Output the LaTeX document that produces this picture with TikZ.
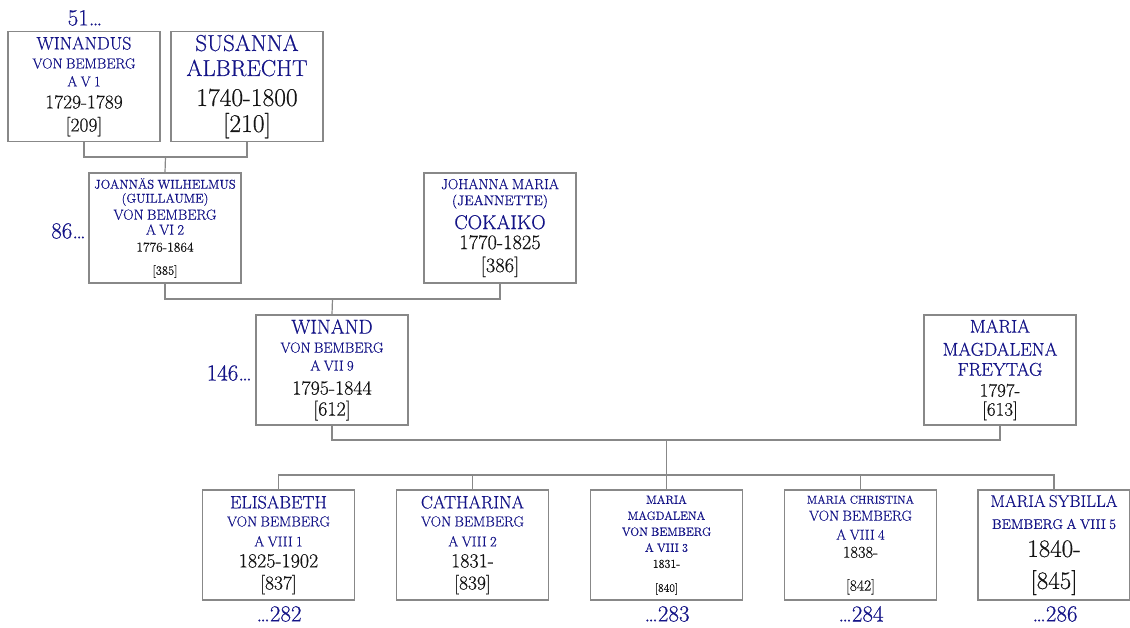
\documentclass[tikz,border=0pt]{standalone}
\usepackage{fontspec}
\setmainfont{Latin Modern Roman}[FakeBold=0.5]

\definecolor{namecol}{RGB}{20,20,135}
\definecolor{boxcol}{RGB}{136,136,136}
\definecolor{datecol}{RGB}{20,20,20}

% one line of a person box: size, skip from the line above, text
\newcommand\nm[3]{{\fontsize{#1}{#2}\selectfont\color{namecol}#3\par}}
\newcommand\dt[3]{{\fontsize{#1}{#2}\selectfont\color{datecol}#3\par}}

\tikzset{
  person/.style={draw=boxcol, line width=1.2pt, rectangle, minimum width=152pt,
    minimum height=110pt, text width=150pt, align=center, inner sep=0pt},
  famline/.style={draw=boxcol, line width=1.2pt},
  refnum/.style={text=namecol, font=\fontsize{23}{24}\selectfont, inner sep=0pt},
}

\begin{document}
\begin{tikzpicture}[x=1pt, y=-1pt]
    \useasboundingbox (0,0) rectangle (1130,627);

    % generation V
    \node[person] (winandus) at (84,86.5)
        {\nm{18}{18}{WINANDUS}\nm{14.5}{19}{VON BEMBERG}\nm{14.5}{18}{A V 1}\dt{19.5}{22}{1729-1789}\dt{19.5}{23}{[209]}};
    \node[person] (susanna) at (247,86.5)
        {\nm{23}{23}{SUSANNA}\nm{23}{25}{ALBRECHT}\dt{25.5}{30}{1740-1800}\dt{25.5}{26}{[210]}};
    \node[refnum] (r51) at (85,18) {51\ldots};

    % generation VI
    \node[person] (joannas) at (165,228)
        {\nm{12.7}{13}{JOANNÄS WILHELMUS}\nm{12.7}{14}{(GUILLAUME)}\nm{14.5}{17}{VON BEMBERG}\nm{14.5}{15}{A VI 2}\dt{13.5}{17}{1776-1864}\dt{12.5}{23}{[385]}\vspace{16pt}};
    \node[person] (johanna) at (500,228)
        {\nm{14.5}{15}{JOHANNA MARIA}\nm{14}{16}{(JEANNETTE)}\nm{20}{24}{COKAIKO}\dt{20.5}{20}{1770-1825}\dt{20.5}{23}{[386]}};
    \node[refnum, anchor=east] (r86) at (86,231) {86\ldots};

    % generation VII
    \node[person] (winand) at (332,370)
        {\nm{20}{20}{WINAND}\nm{14.5}{19}{VON BEMBERG}\nm{14.5}{18}{A VII 9}\dt{20}{24}{1795-1844}\dt{20}{21}{[612]}};
    \node[person] (freytag) at (1000,370)
        {\nm{18.5}{18}{MARIA}\nm{18.5}{23}{MAGDALENA}\nm{18.5}{20}{FREYTAG}\dt{19}{21}{1797-}\dt{19}{19}{[613]}};
    \node[refnum, anchor=east] (r146) at (252,373) {146\ldots};

    % generation VIII
    \node[person] (elisabeth) at (278.5,545)
        {\nm{18}{18}{ELISABETH}\nm{14.5}{18}{VON BEMBERG}\nm{14.5}{20}{A VIII 1}\dt{20}{21}{1825-1902}\dt{19.5}{22}{[837]}};
    \node[person] (catharina) at (472.5,545)
        {\nm{18}{18}{CATHARINA}\nm{14.5}{18}{VON BEMBERG}\nm{14.5}{20}{A VIII 2}\dt{20}{21}{1831-}\dt{19.5}{22}{[839]}};
    \node[person] (magdalena) at (666.5,545)
        {\nm{11.8}{12}{MARIA}\nm{11.8}{16}{MAGDALENA}\nm{11.8}{16}{VON BEMBERG}\nm{11.8}{16}{A VIII 3}\dt{12}{16}{1831-}\dt{11.5}{24}{[840]}\vspace{16pt}};
    \node[person] (christina) at (860.5,545)
        {\nm{11.5}{12}{MARIA CHRISTINA}\nm{14.5}{17}{VON BEMBERG}\nm{14.5}{19}{A VIII 4}\dt{16.5}{18}{1838-}\dt{15.5}{33}{[842]}\vspace{11pt}};
    \node[person] (sybilla) at (1054,545)
        {\nm{17}{17}{MARIA SYBILLA}\nm{14}{22}{BEMBERG A VIII 5}\dt{25}{28}{1840-}\dt{25}{32}{[845]}};
    \node[refnum] (r282) at (279,614) {\ldots282};
    \node[refnum] (r283) at (667,614) {\ldots283};
    \node[refnum] (r284) at (861,614) {\ldots284};
    \node[refnum] (r286) at (1055,614) {\ldots286};

    % family lines
    \coordinate (u1) at (165.5,157);
    \coordinate (u2) at (332.5,299);
    \coordinate (u3) at (666.5,440);
    \coordinate (kids) at (666.5,475);
    \draw[famline] (winandus.south) |- (u1) -| (susanna.south);
    \draw[famline] (u1) -- (joannas.north);
    \draw[famline] (joannas.south) |- (u2) -| (johanna.south);
    \draw[famline] (u2) -- (winand.north);
    \draw[famline] (winand.south) |- (u3) -| (freytag.south);
    \draw[famline] (u3) -- (kids);
    \foreach \c in {elisabeth,catharina,magdalena,christina,sybilla}
        \draw[famline] (kids) -| (\c.north);
\end{tikzpicture}
\end{document}
